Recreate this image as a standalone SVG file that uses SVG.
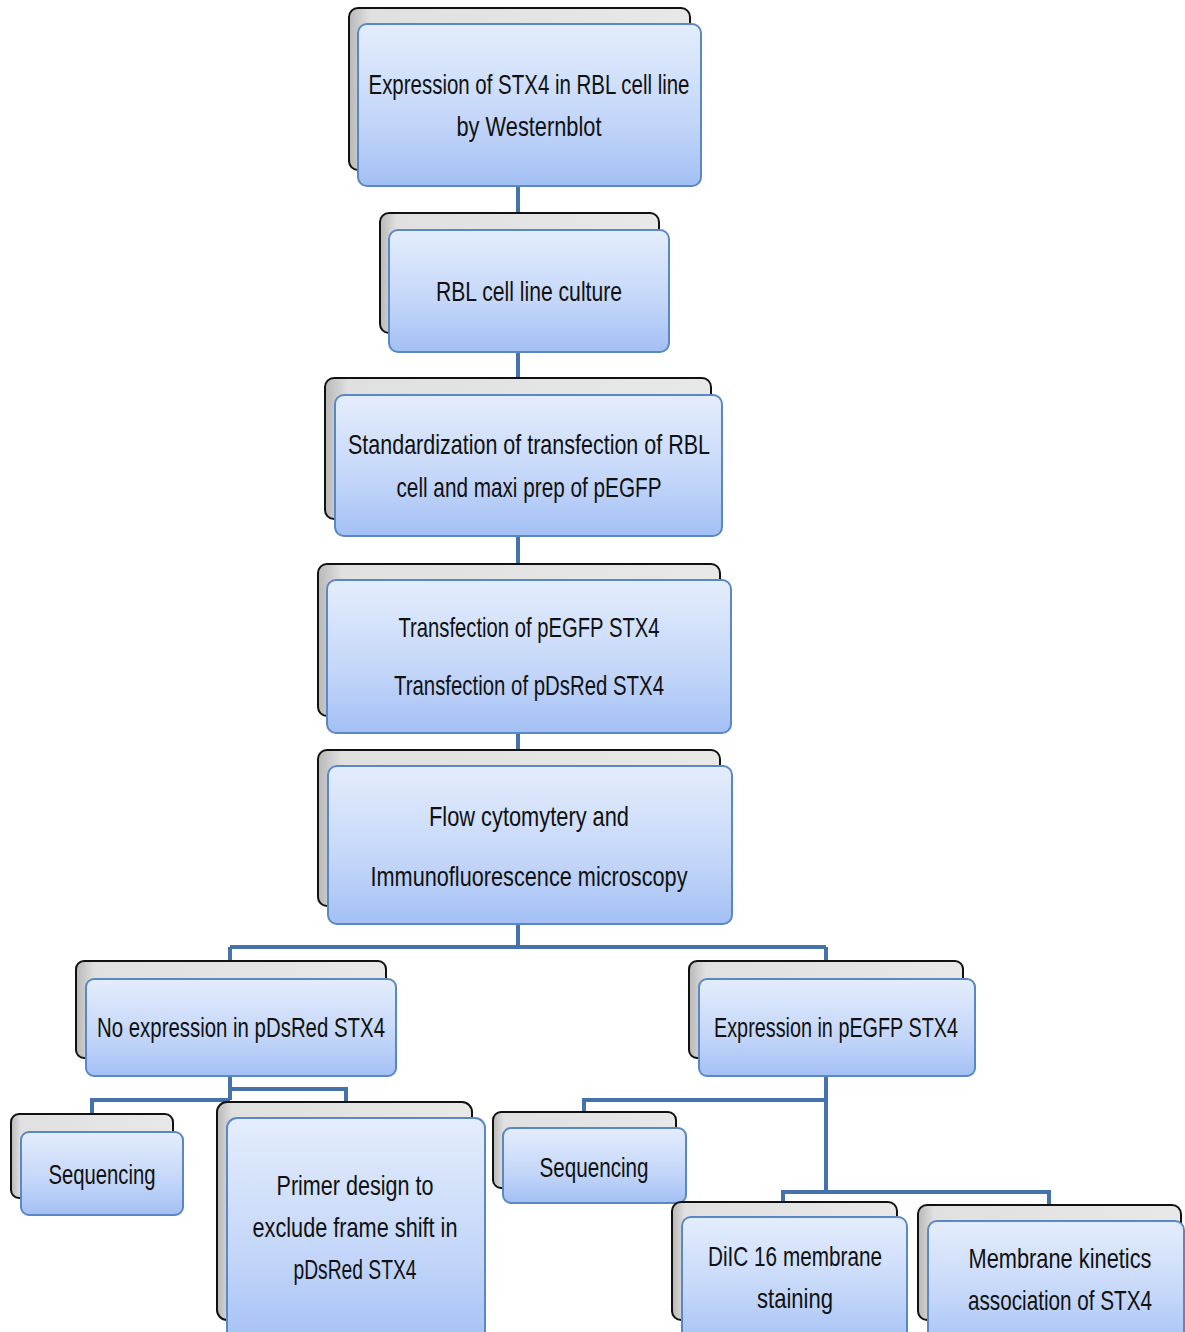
<svg xmlns="http://www.w3.org/2000/svg" width="1185" height="1332" viewBox="0 0 1185 1332">
<defs>
<linearGradient id="gBlue" x1="0" y1="0" x2="0" y2="1">
<stop offset="0" stop-color="#e4edfc"/>
<stop offset="0.6" stop-color="#c3d6f9"/>
<stop offset="1" stop-color="#a3c0f4"/>
</linearGradient>
<linearGradient id="gGray" x1="0" y1="0" x2="1" y2="0">
<stop offset="0" stop-color="#b8b8b8"/>
<stop offset="0.06" stop-color="#e0e0e0"/>
<stop offset="1" stop-color="#e8e8e8"/>
</linearGradient>
</defs>
<style>
.back{fill:url(#gGray);stroke:#111;stroke-width:2}
.front{fill:url(#gBlue);stroke:#5b87c4;stroke-width:2}
.t{font-family:"Liberation Sans",Arial,sans-serif;font-size:28px;fill:#111;text-anchor:middle}
.c{fill:none;stroke:#4672aa;stroke-width:4}
</style>
<rect width="1185" height="1332" fill="#fff"/>
<g id="connectors">
<path class="c" d="M518 187V230M518 352V395M518 536V580M518 733V766M518 924V947M230 947H826M230 947V979M826 947V979"/>
<path class="c" d="M230 1076V1100M230 1100H92V1132M230 1089H346V1118"/>
<path class="c" d="M826 1076V1192M826 1100H584V1128M826 1192H783V1217M826 1192H1049V1221"/>
</g>
<g id="n1">
<rect class="back" x="349" y="8" width="341" height="162" rx="9"/>
<rect class="front" x="358" y="24" width="343" height="162" rx="9"/>
<text class="t" x="529" y="94" textLength="321" lengthAdjust="spacingAndGlyphs">Expression of STX4 in RBL cell line</text>
<text class="t" x="529" y="136" textLength="145" lengthAdjust="spacingAndGlyphs">by Westernblot</text>
</g>
<g id="n2">
<rect class="back" x="380" y="213" width="279" height="120" rx="9"/>
<rect class="front" x="389" y="230" width="280" height="122" rx="9"/>
<text class="t" x="529" y="301" textLength="186" lengthAdjust="spacingAndGlyphs">RBL cell line culture</text>
</g>
<g id="n3">
<rect class="back" x="325" y="378" width="386" height="141" rx="9"/>
<rect class="front" x="335" y="395" width="387" height="141" rx="9"/>
<text class="t" x="529" y="454" textLength="362" lengthAdjust="spacingAndGlyphs">Standardization of transfection of RBL</text>
<text class="t" x="529" y="497" textLength="265" lengthAdjust="spacingAndGlyphs">cell and maxi prep of pEGFP</text>
</g>
<g id="n4">
<rect class="back" x="318" y="564" width="402" height="152" rx="9"/>
<rect class="front" x="327" y="580" width="404" height="153" rx="9"/>
<text class="t" x="529" y="637" textLength="261" lengthAdjust="spacingAndGlyphs">Transfection of pEGFP STX4</text>
<text class="t" x="529" y="695" textLength="270" lengthAdjust="spacingAndGlyphs">Transfection of pDsRed STX4</text>
</g>
<g id="n5">
<rect class="back" x="318" y="750" width="402" height="156" rx="9"/>
<rect class="front" x="328" y="766" width="404" height="158" rx="9"/>
<text class="t" x="529" y="826" textLength="200" lengthAdjust="spacingAndGlyphs">Flow cytomytery and</text>
<text class="t" x="529" y="886" textLength="317" lengthAdjust="spacingAndGlyphs">Immunofluorescence  microscopy</text>
</g>
<g id="n6">
<rect class="back" x="76" y="961" width="310" height="97" rx="8"/>
<rect class="front" x="86" y="979" width="310" height="97" rx="8"/>
<text class="t" x="241" y="1037" textLength="288" lengthAdjust="spacingAndGlyphs">No expression in pDsRed STX4</text>
</g>
<g id="n7">
<rect class="back" x="689" y="961" width="274" height="97" rx="8"/>
<rect class="front" x="699" y="979" width="276" height="97" rx="8"/>
<text class="t" x="836" y="1037" textLength="244" lengthAdjust="spacingAndGlyphs">Expression in pEGFP STX4</text>
</g>
<g id="n8">
<rect class="back" x="11" y="1114" width="162" height="84" rx="8"/>
<rect class="front" x="21" y="1132" width="162" height="83" rx="8"/>
<text class="t" x="102" y="1184" textLength="107" lengthAdjust="spacingAndGlyphs">Sequencing</text>
</g>
<g id="n9">
<rect class="back" x="217" y="1102" width="255" height="218" rx="10"/>
<rect class="front" x="227" y="1118" width="258" height="230" rx="10"/>
<text class="t" x="355" y="1195" textLength="157" lengthAdjust="spacingAndGlyphs">Primer design to</text>
<text class="t" x="355" y="1237" textLength="205" lengthAdjust="spacingAndGlyphs">exclude frame shift in</text>
<text class="t" x="355" y="1279" textLength="123" lengthAdjust="spacingAndGlyphs">pDsRed STX4</text>
</g>
<g id="n10">
<rect class="back" x="493" y="1112" width="183" height="76" rx="8"/>
<rect class="front" x="503" y="1128" width="183" height="75" rx="8"/>
<text class="t" x="594" y="1177" textLength="109" lengthAdjust="spacingAndGlyphs">Sequencing</text>
</g>
<g id="n11">
<rect class="back" x="672" y="1202" width="225" height="118" rx="9"/>
<rect class="front" x="682" y="1217" width="225" height="130" rx="9"/>
<text class="t" x="795" y="1266" textLength="174" lengthAdjust="spacingAndGlyphs">DiIC 16 membrane</text>
<text class="t" x="795" y="1308" textLength="76" lengthAdjust="spacingAndGlyphs">staining</text>
</g>
<g id="n12">
<rect class="back" x="918" y="1205" width="263" height="115" rx="9"/>
<rect class="front" x="928" y="1221" width="256" height="130" rx="9"/>
<text class="t" x="1060" y="1268" textLength="183" lengthAdjust="spacingAndGlyphs">Membrane kinetics</text>
<text class="t" x="1060" y="1310" textLength="184" lengthAdjust="spacingAndGlyphs">association of STX4</text>
</g>
</svg>
